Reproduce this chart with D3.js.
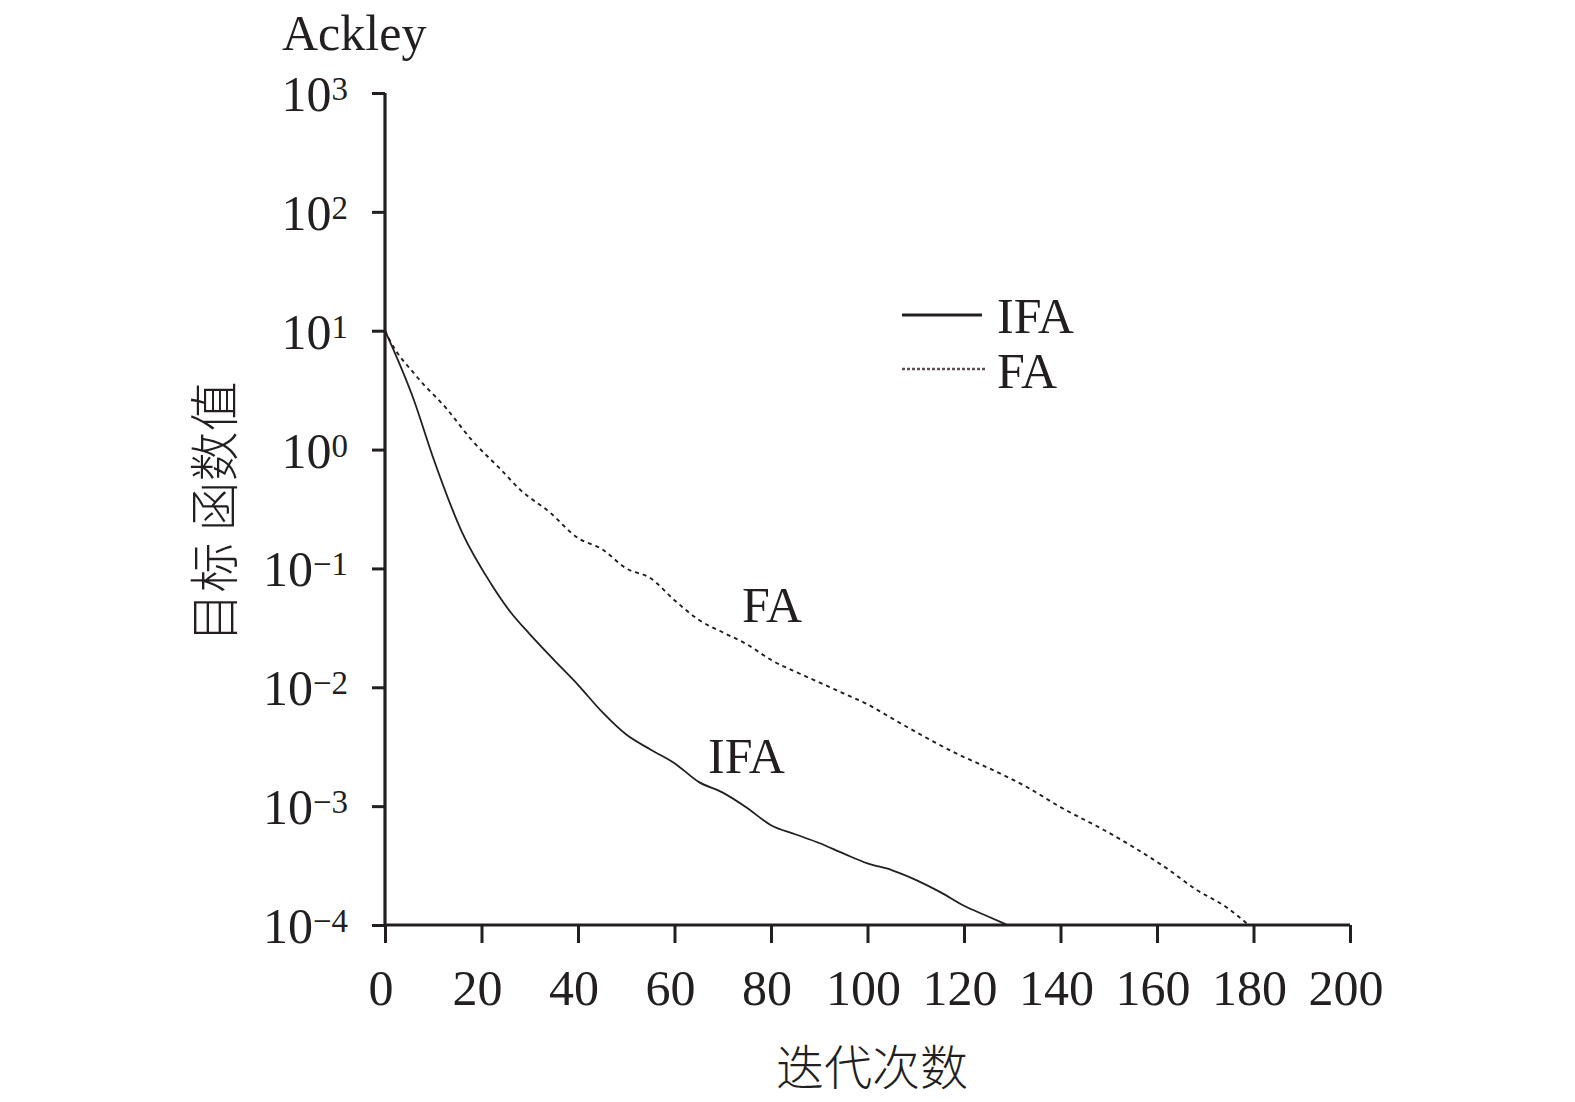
<!DOCTYPE html>
<html>
<head>
<meta charset="utf-8">
<script src="https://cdn.jsdelivr.net/npm/d3@7/dist/d3.min.js"></script>
<style>
  html, body { margin: 0; padding: 0; background: #fff; }
  svg { display: block; }
  .serif { font-family: "Liberation Serif", "Times New Roman", serif; fill: #231f20; }
  .cjk { font-family: "Noto Sans CJK SC", sans-serif; font-weight: 300; fill: #231f20; }
</style>
</head>
<body>
<svg id="chart" width="1575" height="1102"></svg>
<script>
// ---- data ----
const ifaIter = [0, 6, 10, 16, 22, 26, 30, 35, 40, 45, 50, 55, 60, 65, 70, 75, 80, 85, 90, 95, 100, 105, 110, 115, 120, 125, 129];
const ifaValue = [10, 2.6, 0.85, 0.2, 0.074, 0.043, 0.028, 0.017, 0.0105, 0.0062, 0.0040, 0.0030, 0.0023, 0.0016, 0.0013, 0.00097, 0.00069, 0.00058, 0.00049, 0.00040, 0.00033, 0.00029, 0.00024, 0.00019, 0.000145, 0.000118, 0.0001];

const faIter = [0, 1, 6.6, 12.8, 18, 24, 28, 34, 40, 45, 50, 55, 60, 65, 70, 75, 80, 86, 90, 95, 100, 105, 112, 119, 125, 133, 140, 149, 156, 162, 168, 174.5, 179];
const faValue = [10, 8.3, 4.1, 2.2, 1.2, 0.68, 0.46, 0.30, 0.18, 0.145, 0.10, 0.083, 0.054, 0.037, 0.029, 0.023, 0.017, 0.013, 0.011, 0.0089, 0.0072, 0.0055, 0.0038, 0.0027, 0.0021, 0.00145, 0.00098, 0.00063, 0.00043, 0.0003, 0.0002, 0.00014, 0.0001];

const xTicks = [0, 20, 40, 60, 80, 100, 120, 140, 160, 180, 200];
const yTickExps = [3, 2, 1, 0, -1, -2, -3, -4];
const seriesNames = ["IFA", "FA"];
const titleText = "Ackley";
const xLabel = "迭代次数";
const yLabel = "目标 函数值";

// ---- layout ----
const svg = d3.select("#chart");
const x = d3.scaleLinear().domain([0, 200]).range([385, 1350]);
const y = d3.scaleLog().domain([1e-4, 1e3]).range([925, 93]);
const ink = "#231f20";

// axes
const gx = svg.append("g").attr("transform", `translate(0,${y(1e-4)})`)
  .call(d3.axisBottom(x).tickValues(xTicks).tickSize(18).tickFormat(""));
const gy = svg.append("g").attr("transform", `translate(${x(0)},0)`)
  .call(d3.axisLeft(y).tickValues(yTickExps.map(e => Math.pow(10, e))).tickSize(13).tickFormat(""));
[gx, gy].forEach(g => {
  g.select(".domain").attr("stroke", ink).attr("stroke-width", 3.2);
  g.selectAll(".tick line").attr("stroke", ink).attr("stroke-width", 3);
});
gx.select(".domain").attr("d", `M${x(0)},0H${x(200)}`);
gy.select(".domain").attr("d", `M0,${y(1e3)}V${y(1e-4)}`);

// x tick labels
svg.append("g").selectAll("text").data(xTicks).join("text")
  .attr("class", "serif")
  .attr("x", d => x(d) - 4)
  .attr("y", 1005)
  .attr("text-anchor", "middle")
  .attr("font-size", 50)
  .text(d => d);

// y tick labels with superscripts
const yl = svg.append("g").selectAll("text").data(yTickExps).join("text")
  .attr("class", "serif")
  .attr("x", 348)
  .attr("y", d => y(Math.pow(10, d)) + 18)
  .attr("text-anchor", "end")
  .attr("font-size", 50);
yl.append("tspan").text("10");
yl.append("tspan").attr("font-size", 33).attr("dy", -11)
  .text(d => d < 0 ? "\u2212" + Math.abs(d) : String(d));

// lines
const line = d3.line().x(d => x(d[0])).y(d => y(d[1])).curve(d3.curveMonotoneX);
const ifaData = ifaIter.map((t, i) => [t, ifaValue[i]]);
const faData = faIter.map((t, i) => [t, faValue[i]]);

svg.append("path").datum(faData).attr("d", line)
  .attr("fill", "none").attr("stroke", ink).attr("stroke-width", 1.9)
  .attr("stroke-dasharray", "4,4");
svg.append("path").datum(ifaData).attr("d", line)
  .attr("fill", "none").attr("stroke", ink).attr("stroke-width", 1.8);

// in-plot labels
svg.append("text").attr("class", "serif").attr("x", 742).attr("y", 622)
  .attr("font-size", 50).text(seriesNames[1]);
svg.append("text").attr("class", "serif").attr("x", 708).attr("y", 773)
  .attr("font-size", 50).text(seriesNames[0]);

// legend
svg.append("line").attr("x1", 902).attr("x2", 982).attr("y1", 315).attr("y2", 315)
  .attr("stroke", ink).attr("stroke-width", 3.2);
svg.append("line").attr("x1", 902).attr("x2", 985).attr("y1", 369).attr("y2", 369)
  .attr("stroke", "#5e4e50").attr("stroke-width", 2.6).attr("stroke-dasharray", "3,2");
svg.append("text").attr("class", "serif").attr("x", 997).attr("y", 333)
  .attr("font-size", 50).text(seriesNames[0]);
svg.append("text").attr("class", "serif").attr("x", 997).attr("y", 388)
  .attr("font-size", 50).text(seriesNames[1]);

// title
svg.append("text").attr("class", "serif").attr("x", 282).attr("y", 50)
  .attr("font-size", 50).text(titleText);

// axis labels
svg.append("text").attr("class", "cjk").attr("x", 872).attr("y", 1085)
  .attr("text-anchor", "middle")
  .attr("font-size", 48).text(xLabel);
svg.append("text").attr("class", "cjk")
  .attr("transform", "translate(211,512) rotate(-90)")
  .attr("text-anchor", "middle").attr("dominant-baseline", "central")
  .attr("font-size", 50).text(yLabel);
</script>
</body>
</html>
